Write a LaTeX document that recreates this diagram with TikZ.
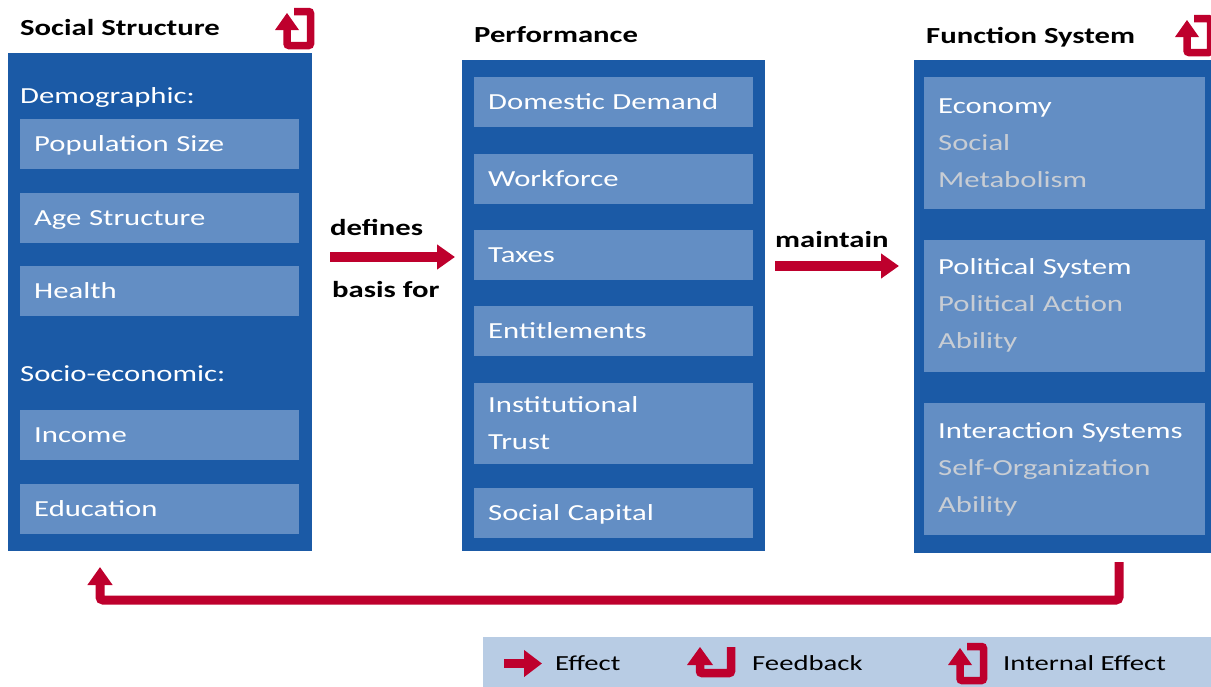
\documentclass[tikz,border=0pt]{standalone}
\usepackage{fontspec}
\setmainfont[FakeStretch=1.335]{Carlito}
\usepackage{xcolor}
\usepackage{tikz}
\usetikzlibrary{shapes,arrows.meta,positioning}

\definecolor{boxblue}{RGB}{27,90,166}
\definecolor{itemblue}{RGB}{99,142,196}
\definecolor{keyblue}{RGB}{184,204,228}
\definecolor{effred}{RGB}{190,0,45}
\definecolor{subgray}{RGB}{200,205,212}

% icon: arrow out of a square
\newcommand{\internalicon}[1]{%
  \begin{scope}[shift={#1}]
    \draw[effred, line width=7.5pt, rounded corners=2pt] (19,3.5) -- (35.5,3.5) -- (35.5,37.5) -- (12,37.5) -- (12,20);
    \fill[effred] (0,22) -- (24,22) -- (12,5) -- cycle;
  \end{scope}}
% icon: arrow turning back
\newcommand{\feedbackicon}[1]{%
  \begin{scope}[shift={#1}]
    \draw[effred, line width=8.5pt, rounded corners=2pt] (13,16) -- (13,26) -- (44,26) -- (44,0);
    \fill[effred] (0,18) -- (26,18) -- (13,0) -- cycle;
  \end{scope}}

\begin{document}
\begin{tikzpicture}[x=1pt, y=-1pt, font=\fontsize{23}{37}\selectfont]
    \tikzstyle{outer} = [rectangle, fill=boxblue, inner sep=0pt, anchor=north west]
    \tikzstyle{item} = [rectangle, fill=itemblue, text=white, text width=251pt,
        inner xsep=14pt, inner ysep=0pt, minimum height=50pt, align=left]
    \tikzstyle{subsys} = [item, text width=253pt, minimum height=132pt]
    \tikzstyle{title} = [font=\fontsize{23}{37}\selectfont\bfseries, anchor=base west, inner sep=0pt]
    \tikzstyle{group} = [text=white, anchor=base west, inner sep=0pt]
    \tikzstyle{key} = [font=\fontsize{21.5}{26}\selectfont, anchor=base west, inner sep=0pt]
    \tikzstyle{effect} = [draw=effred, line width=10pt, -{Triangle[length=18pt,width=24pt]}]
    \tikzstyle{fb} = [draw=effred, line width=9pt, rounded corners=3pt, -{Triangle[length=18pt,width=24pt]}]

    \useasboundingbox (0,0) rectangle (1211,686);

    % social structure
    \node [outer, minimum width=304pt, minimum height=498pt] (social) at (8,53) {};
    \node [title] (socialtitle) at (20,35) {Social Structure};
    \internalicon{(275,8)}
    \node [group] (demo) at (20,103) {Demographic:};
    \node [item, anchor=north west] (pop) at (20,119) {\strut Population Size};
    \node [item, below=23pt of pop] (age) {\strut Age Structure};
    \node [item, below=23pt of age] (health) {\strut Health};
    \node [group] (socio) at (20,381) {Socio-economic:};
    \node [item, anchor=north west] (income) at (20,410) {\strut Income};
    \node [item, below=23pt of income] (edu) {\strut Education};

    % performance
    \node [outer, minimum width=303pt, minimum height=491pt] (perf) at (462,60) {};
    \node [title] (perftitle) at (474,42) {Performance};
    \node [item, anchor=north west] (demand) at (474,77) {\strut Domestic Demand};
    \node [item, below=26pt of demand] (work) {\strut Workforce};
    \node [item, below=26pt of work] (taxes) {\strut Taxes};
    \node [item, below=26pt of taxes] (entitle) {\strut Entitlements};
    \node [item, below=26pt of entitle, minimum height=81pt] (trust) {Institutional\\Trust};
    \node [item, below=24pt of trust] (capital) {\strut Social Capital};

    % function system
    \node [outer, minimum width=300pt, minimum height=493pt] (func) at (914,60) {};
    \node [title] (functitle) at (926,43) {Function System};
    \internalicon{(1175,15)}
    \node [subsys, anchor=north west] (economy) at (924,77)
        {Economy\\\textcolor{subgray}{Social}\\\textcolor{subgray}{Metabolism}};
    \node [subsys, below=30pt of economy] (politics)
        {Political System\\\textcolor{subgray}{Political Action}\\\textcolor{subgray}{Ability}};
    \node [subsys, below=31pt of politics] (interact)
        {Interaction Systems\\\textcolor{subgray}{Self-Organization}\\\textcolor{subgray}{Ability}};

    % effects
    \coordinate (defstart) at (330,257);
    \coordinate (defend) at (455,257);
    \node [title] (defines) at (330,235) {defines};
    \node [title] (basis) at (332,297) {basis for};
    \path [effect] (defstart) -- (defend);

    \coordinate (mainstart) at (775,266);
    \coordinate (mainend) at (899,266);
    \node [title] (maintain) at (775,247) {maintain};
    \path [effect] (mainstart) -- (mainend);

    % feedback
    \coordinate (fbstart) at (1119,562);
    \coordinate (fbturn) at (1119,600);
    \coordinate (fbend) at (100,567);
    \path [fb] (fbstart) -- (fbturn) -| (fbend);

    % legend
    \node [outer, fill=keyblue, minimum width=740pt, minimum height=55pt] (legend) at (483,637) {};
    \coordinate (keystart) at (504,663.5);
    \coordinate (keyend) at (542,663.5);
    \path [draw=effred, line width=9pt, -{Triangle[length=18pt,width=26pt]}] (keystart) -- (keyend);
    \node [key] (keyeffect) at (555,670) {Effect};
    \feedbackicon{(687,647)}
    \node [key] (keyfb) at (752,670) {Feedback};
    \internalicon{(948,643)}
    \node [key] (keyint) at (1003,670) {Internal Effect};
\end{tikzpicture}
\end{document}
